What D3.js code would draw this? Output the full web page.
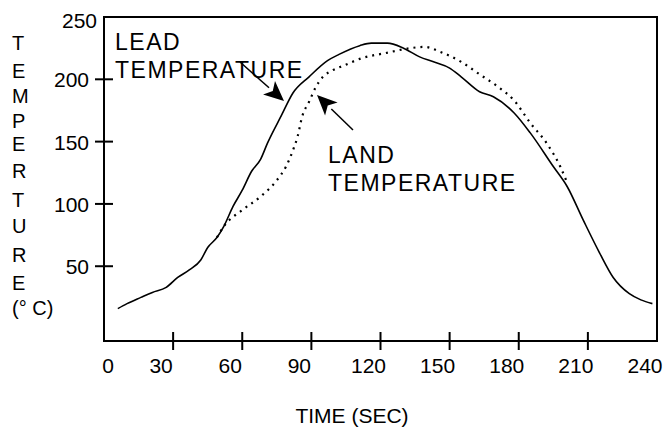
<!DOCTYPE html>
<html>
<head>
<meta charset="utf-8">
<script src="https://cdn.jsdelivr.net/npm/d3@7/dist/d3.min.js"></script>
<style>
  html, body { margin: 0; padding: 0; background: #fff; }
  text { font-family: "Liberation Sans", Arial, sans-serif; fill: #000; }
</style>
</head>
<body>
<svg id="chart" width="670" height="430"></svg>
<script>
// ---- data ----
const leadTime = [6,10,16,21,27,32,37,42,45,49,52,56,60,64,68,71,77,82,89,97,102,111,116,123,130,137,143,150,155,163,169,178,185,195,201,208,215,221,228,233,238];
const leadTemp = [16,20,25,29,33,41,47,55,65,73,82,98,111,126,136,149,171,189,202,215,220,227,229,229,225,218,214,209,202,190,186,173,157,130,114,87,61,41,28,23,20];
const landTime = [49,52,60,68,75,79,82,84,86,89,92,95,99,104,112,122,133,139,146,155,163,171,178,185,192,198,201];
const landTemp = [73,82,95,106,119,130,143,154,170,182,194,202,207,211,217,221,225,226,222,214,204,194,183,165,149,130,117];
const xTicks = [0,30,60,90,120,150,180,210,240];
const yTicks = [50,100,150,200,250];
const yTitleLetters = ["T","E","M","P","E","R","T","U","R","E","(\u00B0 C)"];
const xTitle = "TIME (SEC)";
const leadLabel = ["LEAD","TEMPERATURE"];
const landLabel = ["LAND","TEMPERATURE"];

// ---- layout ----
const svg = d3.select("#chart");
const L = 104, R = 657, T = 17, B = 341;
const x = d3.scaleLinear().domain([0,240]).range([L,R]);
const y = d3.scaleLinear().domain([-10,250]).range([B,T]);

// frame
svg.append("rect").attr("x",L).attr("y",T).attr("width",R-L).attr("height",B-T)
  .attr("fill","none").attr("stroke","#000").attr("stroke-width",2);

// x ticks (cross the axis)
svg.selectAll(".xt").data(xTicks.filter(d => d>0 && d<240)).enter().append("line")
  .attr("x1",d=>x(d)).attr("x2",d=>x(d)).attr("y1",B-9).attr("y2",B+9)
  .attr("stroke","#000").attr("stroke-width",2);
svg.selectAll(".xl").data(xTicks).enter().append("text")
  .attr("x",d=>x(d) + (d===0 ? 4 : -12)).attr("y",373)
  .attr("text-anchor","middle").attr("font-size",21).text(d=>d);

// y ticks
svg.selectAll(".yt").data(yTicks.filter(d => d<250)).enter().append("line")
  .attr("x1",L-9).attr("x2",L+9).attr("y1",d=>y(d)).attr("y2",d=>y(d))
  .attr("stroke","#000").attr("stroke-width",2);
svg.selectAll(".yl").data(yTicks).enter().append("text")
  .attr("x",d=> d===250 ? 97 : 89)
  .attr("y",d=>y(d) + (d===250 ? 11 : 8))
  .attr("text-anchor","end").attr("font-size",21).text(d=>d);

// axis titles
svg.append("text").attr("x",352).attr("y",423).attr("text-anchor","middle")
  .attr("font-size",21).text(xTitle);
const yTitleBase = [50,78,103,128,151,178,207,233,262,290,315];
svg.selectAll(".ytl").data(yTitleLetters).enter().append("text")
  .attr("x",12).attr("y",(d,i)=>yTitleBase[i]).attr("font-size",20).text(d=>d);

// lines
const line = d3.line().x(d=>x(d[0])).y(d=>y(d[1])).curve(d3.curveMonotoneX);
svg.append("path").datum(landTime.map((t,i)=>[t,landTemp[i]]))
  .attr("d",line).attr("fill","none").attr("stroke","#000")
  .attr("stroke-width",2.2).attr("stroke-dasharray","2,5");
svg.append("path").datum(leadTime.map((t,i)=>[t,leadTemp[i]]))
  .attr("d",line).attr("fill","none").attr("stroke","#000").attr("stroke-width",1.6);

// annotations
function label(lines, x0, y0){
  lines.forEach((s,i)=>svg.append("text").attr("x",x0).attr("y",y0+i*28)
    .attr("font-size",23).attr("letter-spacing",1.5).text(s));
}
label(leadLabel,115,50);
label(landLabel,328,163);

function arrow(x1,y1,x2,y2){
  const a = Math.atan2(y2-y1,x2-x1), len=20, w=9;
  const bx = x2 - len*Math.cos(a), by = y2 - len*Math.sin(a);
  svg.append("line").attr("x1",x1).attr("y1",y1).attr("x2",bx).attr("y2",by)
    .attr("stroke","#000").attr("stroke-width",1.5);
  const p = [[x2,y2],[bx - w*Math.sin(a), by + w*Math.cos(a)],[bx + 5*Math.cos(a), by + 5*Math.sin(a)],[bx + w*Math.sin(a), by - w*Math.cos(a)]];
  svg.append("path").attr("d","M"+p.map(q=>q.join(",")).join("L")+"Z").attr("fill","#000");
}
arrow(240,62,284,101);
arrow(353,130,317,95);
</script>
</body>
</html>
